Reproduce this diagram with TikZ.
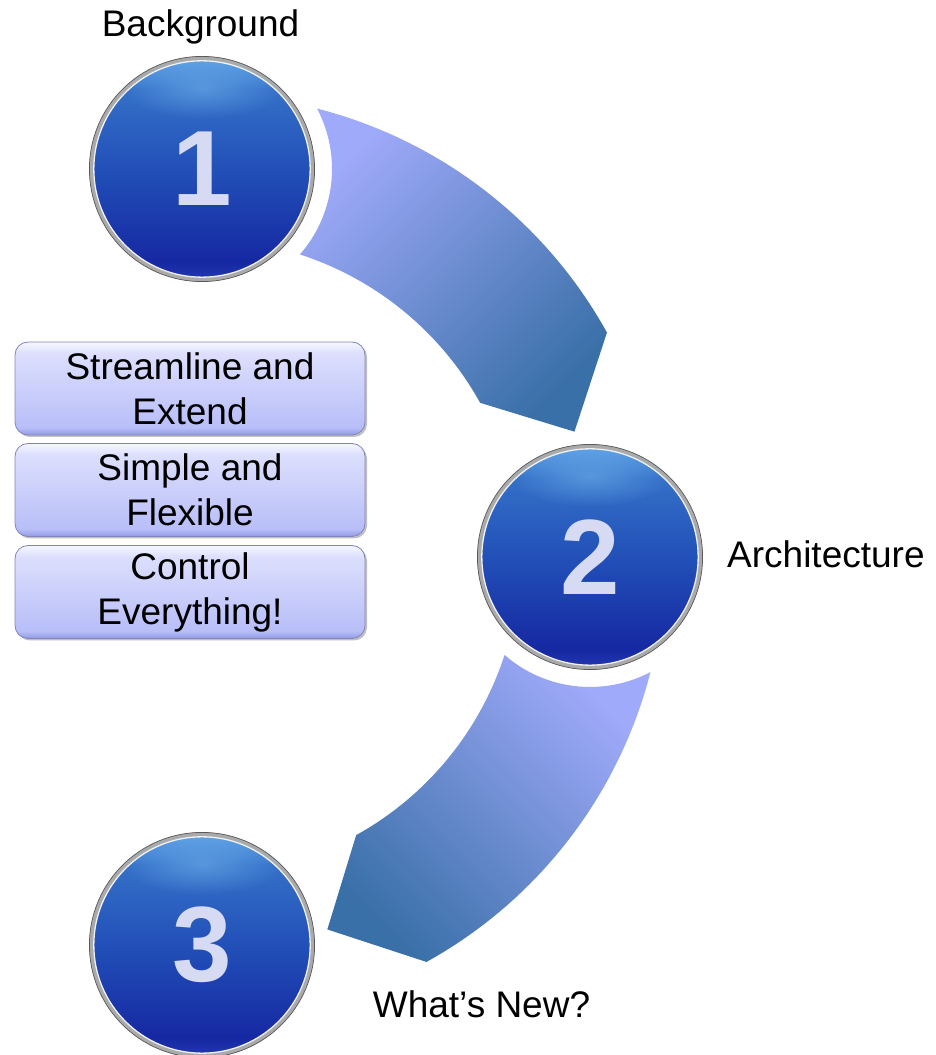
\documentclass[tikz,border=0pt]{standalone}
\usepackage{fontspec}
\setmainfont{Liberation Sans}
\usetikzlibrary{shadows,fadings}
\definecolor{arlight}{RGB}{160,170,250}
\definecolor{ardark}{RGB}{58,112,168}
\definecolor{balltop}{RGB}{96,165,232}
\definecolor{ballup}{RGB}{52,112,200}
\definecolor{ballmid}{RGB}{34,80,184}
\definecolor{balldk}{RGB}{22,40,162}
\definecolor{ballbot}{RGB}{34,56,176}
\definecolor{ballhl}{RGB}{130,195,245}
\definecolor{ringgray}{RGB}{170,170,170}
\definecolor{numcol}{RGB}{214,218,242}
\definecolor{boxtop}{RGB}{242,243,255}
\definecolor{boxhi}{RGB}{220,223,253}
\definecolor{boxlo}{RGB}{184,190,248}
\definecolor{boxbot}{RGB}{146,154,228}
\definecolor{boxedge}{RGB}{128,134,186}
\pgfdeclareverticalshading{ballshade}{100bp}{color(0bp)=(ballbot); color(25bp)=(ballbot); color(29bp)=(balldk); color(50bp)=(ballmid); color(68bp)=(ballup); color(75bp)=(balltop); color(100bp)=(balltop)}
\pgfdeclareverticalshading{boxshade}{100bp}{color(0bp)=(boxbot); color(25bp)=(boxbot); color(29bp)=(boxlo); color(69bp)=(boxhi); color(74bp)=(boxtop); color(100bp)=(boxtop)}
\tikzfading[name=hlfade, inner color=transparent!55, outer color=transparent!100]
\begin{document}
\begin{tikzpicture}[x=1pt,y=1pt,
  ball/.style={circle, minimum size=221pt, inner sep=0pt, shading=ballshade,
    draw=ringgray, line width=4.5pt, text=numcol,
    font=\fontsize{107}{107}\selectfont\bfseries},
  lbl/.style={inner sep=0pt, font=\fontsize{37}{44}\selectfont},
  sbox/.style={rounded corners=13pt, minimum width=350pt, minimum height=93pt,
    inner sep=0pt, shading=boxshade, draw=boxedge, line width=0.8pt,
    align=center, font=\fontsize{37}{45}\selectfont,
    drop shadow={shadow xshift=2pt, shadow yshift=-2pt, fill=black!55, opacity=0.45}},
  arrowband/.style={top color=arlight, bottom color=ardark}
]
\useasboundingbox (0,0) rectangle (935,1055);
\coordinate (C) at (202,498);

% curved arrows
\shade[arrowband, shading angle=45]
  ([shift={(75.6:463)}]C) arc[start angle=75.6, end angle=29, radius=463]
  -- ([shift={(18.6:393)}]C) -- ([shift={(29:318)}]C)
  arc[start angle=29, end angle=72.06, radius=318]
  arc[start angle=-41.1, end angle=27.7, radius=130] -- cycle;
\shade[arrowband, shading angle=-45]
  ([shift={(-14.4:463)}]C) arc[start angle=-14.4, end angle=-61, radius=463]
  -- ([shift={(-71.4:393)}]C) -- ([shift={(-61:318)}]C)
  arc[start angle=-61, end angle=-17.94, radius=318]
  arc[start angle=-131.1, end angle=-62.3, radius=130] -- cycle;

% numbered balls
\node[ball] (n1) at (202,886) {1};
\node[ball] (n2) at (590,498) {2};
\node[ball] (n3) at (202,110) {3};
\foreach \n in {n1,n2,n3}{
  \fill[ballhl, path fading=hlfade] ([yshift=80pt]\n.center) ellipse[x radius=80, y radius=30];
  \draw[white!88!gray, line width=1.3pt] (\n.center) circle[radius=108.2];
  \draw[gray!70!black, line width=0.7pt] (\n.center) circle[radius=112.6];
}

% labels
\node[lbl, anchor=base] (lb1) at (200.5,1018) {Background};
\node[lbl, anchor=base west] (lb2) at (727,487) {Architecture};
\node[lbl, anchor=base] (lb3) at (481.5,37) {What’s New?};

% boxes
\node[sbox] (b1) at (190,666.5) {Streamline and\\Extend};
\node[sbox] (b2) at (190,565) {Simple and\\Flexible};
\node[sbox] (b3) at (190,463) {Control\\Everything!};
\end{tikzpicture}
\end{document}
